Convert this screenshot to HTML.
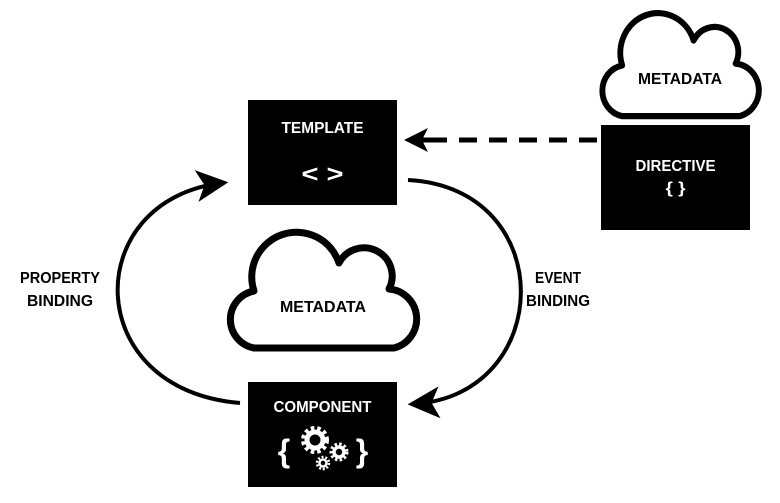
<!DOCTYPE html>
<html><head><meta charset="utf-8"><style>
html,body{margin:0;padding:0;background:#fff;}
svg{display:block;}
text{font-family:"Liberation Sans",sans-serif;font-weight:bold;}
</style></head><body>
<svg width="780" height="503" viewBox="0 0 780 503" xmlns="http://www.w3.org/2000/svg">
<defs>
<marker id="ah" viewBox="0 0 20 20" refX="16" refY="10" markerWidth="8" markerHeight="8" orient="auto" markerUnits="strokeWidth">
<path d="M0 0 L20 10 L0 20 L5 10 Z" fill="#000"/>
</marker>
<g id="cloud">
<path d="M30 117 H170 A30 30 0 0 0 165 58 A28 28 0 0 0 115 32 A42 42 0 0 0 30 60 A29 29 0 0 0 30 117 Z" fill="#fff" stroke="#000" stroke-width="7" stroke-linejoin="round"/>
</g>
</defs>

<rect x="248" y="100" width="149" height="105" fill="#000"/>
<text x="322.5" y="133" text-anchor="middle" fill="#fff" font-size="16" textLength="82" lengthAdjust="spacingAndGlyphs">TEMPLATE</text>
<text x="322.5" y="182" text-anchor="middle" fill="#fff" font-size="24" textLength="42" lengthAdjust="spacingAndGlyphs">&lt; &gt;</text>

<rect x="248" y="382" width="149" height="105" fill="#000"/>
<text x="322.5" y="412" text-anchor="middle" fill="#fff" font-size="16" textLength="98" lengthAdjust="spacingAndGlyphs">COMPONENT</text>
<text x="284" y="462" text-anchor="middle" fill="#fff" font-size="32">{</text>
<text x="362" y="462" text-anchor="middle" fill="#fff" font-size="32">}</text>
<g fill="none" stroke="#fff">
<circle cx="315" cy="440" r="8" stroke-width="5"/>
<circle cx="315" cy="440" r="12" stroke-width="4" stroke-dasharray="3.5 3"/>
<circle cx="339" cy="452" r="5" stroke-width="3.5"/>
<circle cx="339" cy="452" r="8" stroke-width="3" stroke-dasharray="2.5 2.2"/>
<circle cx="323" cy="463" r="3.5" stroke-width="2.5"/>
<circle cx="323" cy="463" r="6" stroke-width="2.5" stroke-dasharray="2 1.8"/>
</g>

<rect x="601" y="125" width="149" height="105" fill="#000"/>
<text x="675.5" y="171" text-anchor="middle" fill="#fff" font-size="16" textLength="80" lengthAdjust="spacingAndGlyphs">DIRECTIVE</text>
<text x="675.5" y="193" text-anchor="middle" fill="#fff" font-size="16" textLength="20" lengthAdjust="spacingAndGlyphs">{ }</text>

<use href="#cloud" transform="translate(224,231)"/>
<text x="323" y="312" text-anchor="middle" fill="#000" font-size="16" textLength="86" lengthAdjust="spacingAndGlyphs">METADATA</text>
<use href="#cloud" transform="translate(597,12) scale(0.84,0.89)"/>
<text x="680" y="84" text-anchor="middle" fill="#000" font-size="16" textLength="84" lengthAdjust="spacingAndGlyphs">METADATA</text>

<line x1="597" y1="140" x2="420" y2="140" stroke="#000" stroke-width="5" stroke-dasharray="18 12"/>
<path d="M404 140 L428 128 L422 140 L428 152 Z" fill="#000"/>
<line x1="420" y1="140" x2="432" y2="140" stroke="#000" stroke-width="5"/>

<path d="M240 403 C 80 390, 80 200, 222 183" fill="none" stroke="#000" stroke-width="4" marker-end="url(#ah)"/>
<path d="M408 180 C 560 188, 555 395, 414 404" fill="none" stroke="#000" stroke-width="4" marker-end="url(#ah)"/>

<text x="60" y="283" text-anchor="middle" fill="#000" font-size="16" textLength="80" lengthAdjust="spacingAndGlyphs">PROPERTY</text>
<text x="60" y="306" text-anchor="middle" fill="#000" font-size="16" textLength="66" lengthAdjust="spacingAndGlyphs">BINDING</text>
<text x="558" y="283" text-anchor="middle" fill="#000" font-size="16" textLength="46" lengthAdjust="spacingAndGlyphs">EVENT</text>
<text x="558" y="306" text-anchor="middle" fill="#000" font-size="16" textLength="64" lengthAdjust="spacingAndGlyphs">BINDING</text>
</svg>
</body></html>
